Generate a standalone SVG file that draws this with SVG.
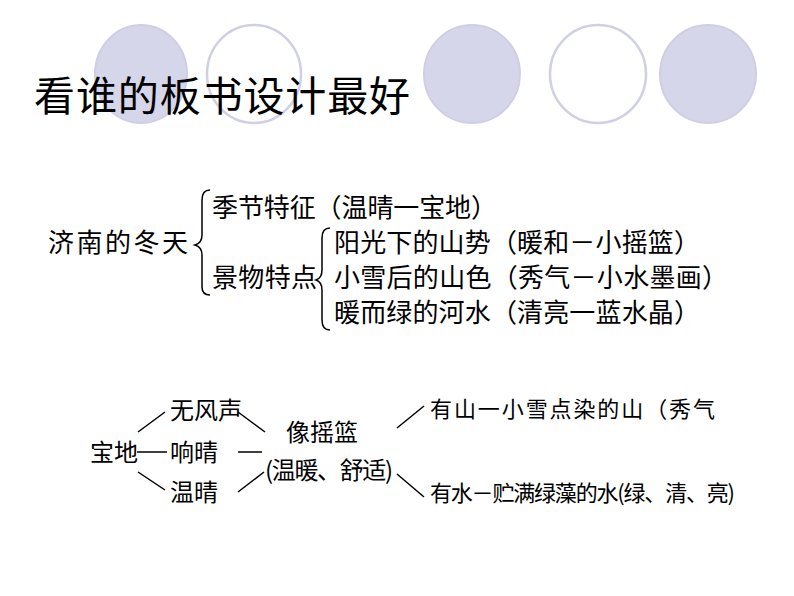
<svg xmlns="http://www.w3.org/2000/svg" width="794" height="596" viewBox="0 0 794 596">
<style>
.f{fill:#d6d6ea;stroke:#cfcfe4;stroke-width:2}
.o{fill:#fff;stroke:#d0d0e4;stroke-width:2.5}
text{font-family:"Noto Sans CJK SC","Noto Sans CJK JP",sans-serif;fill:#000}
.t{font-size:26px}
.s{font-size:24px}
.r{font-size:22px}
.c line,.c path{stroke:#000;stroke-width:1.5;fill:none}
</style>
<rect width="794" height="596" fill="#fff"/>
<g id="deco">
<ellipse class="f" cx="141" cy="74" rx="46" ry="49"/>
<ellipse class="o" cx="254" cy="74" rx="47" ry="49"/>
<ellipse class="f" cx="472" cy="74" rx="48" ry="49"/>
<ellipse class="o" cx="598" cy="74" rx="48" ry="49"/>
<ellipse class="f" cx="708" cy="74" rx="48" ry="49"/>
</g>
<g id="title"><text x="34" y="111" font-size="41" textLength="376">看谁的板书设计最好</text></g>
<g class="c" id="connectors">
<path d="M210,190 Q202,190 202,200 L202,235 Q202,243 195,245 Q202,247 202,255 L202,287 Q202,295 210,295"/>
<path d="M330,228 Q322,228 322,238 L322,270 Q322,278 316,280 Q322,282 322,290 L322,320 Q322,330 330,330"/>
<line x1="138" y1="432" x2="165" y2="412"/>
<line x1="238" y1="412" x2="265" y2="432"/>
<line x1="137" y1="452" x2="167" y2="452"/>
<line x1="238" y1="452" x2="262" y2="452"/>
<line x1="138" y1="472" x2="165" y2="490"/>
<line x1="238" y1="492" x2="264" y2="472"/>
<line x1="397" y1="428" x2="424" y2="406"/>
<line x1="397" y1="474" x2="424" y2="497"/>
</g>
<g id="n1"><text class="t" x="48" y="252" textLength="140">济南的冬天</text></g>
<g id="n2"><text class="t" x="212" y="217" textLength="285">季节特征（温晴一宝地）</text></g>
<g id="n3"><text class="t" x="212" y="287" textLength="105">景物特点</text></g>
<g id="n4"><text class="t" x="334" y="252" textLength="366">阳光下的山势（暖和－小摇篮）</text></g>
<g id="n5"><text class="t" x="334" y="287" textLength="394">小雪后的山色（秀气－小水墨画）</text></g>
<g id="n6"><text class="t" x="334" y="322" textLength="366">暖而绿的河水（清亮一蓝水晶）</text></g>
<g id="m1"><text class="s" x="90" y="461">宝地</text></g>
<g id="m2"><text class="s" x="170" y="419">无风声</text></g>
<g id="m3"><text class="s" x="170" y="461">响晴</text></g>
<g id="m4"><text class="s" x="170" y="501">温晴</text></g>
<g id="m5"><text class="s" x="286" y="441">像摇篮</text><text class="s" x="265" y="479" textLength="128">(温暖、舒适)</text></g>
<g id="m6"><text class="r" x="430" y="417" textLength="285">有山一小雪点染的山（秀气</text></g>
<g id="m7"><text class="r" x="430" y="501" textLength="305">有水－贮满绿藻的水(绿、清、亮)</text></g>
</svg>
